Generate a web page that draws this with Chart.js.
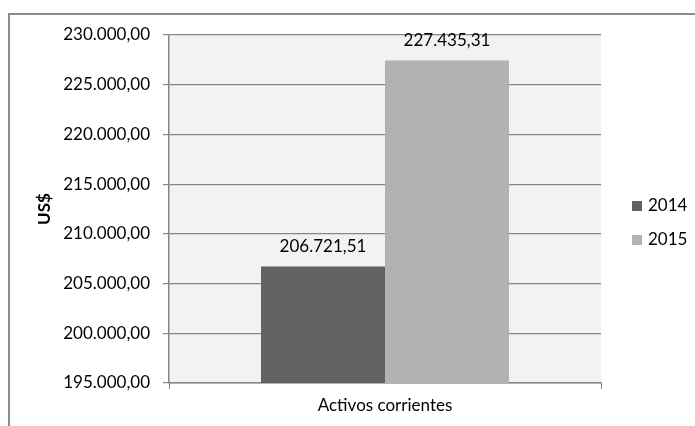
<!DOCTYPE html>
<html>
<head>
<meta charset="utf-8">
<script src="https://cdn.jsdelivr.net/npm/chart.js@4.4.1/dist/chart.umd.min.js"></script>
<style>
  html, body { margin: 0; background: #fff; overflow: hidden; }
  canvas { display: block; }
</style>
</head>
<body>
<canvas id="zeChart" width="695" height="426"></canvas>
<script>
// data
var categories = ["Activos corrientes"];
var series_2014 = [206721.51];
var series_2015 = [227435.31];
var series_labels = ["2014", "2015"];
var y_min = 195000, y_max = 230000, y_step = 5000;
var y_label = "US$";

var FONT = "Lato";
var FSIZE = 17;

function fmt(v) { // 230000 -> 230.000,00
    var parts = v.toFixed(2).split(".");
    var int = parts[0].replace(/\B(?=(\d{3})+(?!\d))/g, ".");
    return int + "," + parts[1];
}

// value labels above the bars
const valueLabels = {
    id: "valueLabels",
    afterDatasetsDraw(chart) {
        const ctx = chart.ctx;
        ctx.save();
        ctx.font = FSIZE + "px " + FONT;
        ctx.fillStyle = "#000";
        ctx.textAlign = "center";
        ctx.textBaseline = "middle";
        chart.data.datasets.forEach((ds, i) => {
            chart.getDatasetMeta(i).data.forEach((bar, j) => {
                ctx.fillText(fmt(ds.data[j]), bar.x, bar.y - 20);
            });
        });
        ctx.restore();
    }
};

// excel-like legend on the right
const sideLegend = {
    id: "sideLegend",
    afterDraw(chart) {
        const ctx = chart.ctx;
        ctx.save();
        ctx.font = FSIZE + "px " + FONT;
        ctx.textBaseline = "middle";
        chart.data.datasets.forEach((ds, i) => {
            const y = 206 + i * 34;
            ctx.fillStyle = ds.backgroundColor;
            ctx.fillRect(632, y - 5, 10, 10);
            ctx.fillStyle = "#000";
            ctx.fillText(ds.label, 648, y);
        });
        ctx.restore();
    }
};

// chart frame (cropped, only left + top show) and plot area background
const plotBg = {
    id: "plotBg",
    beforeDraw(chart) {
        const c = chart.ctx, a = chart.chartArea;
        c.save();
        c.strokeStyle = "#8c8c8c";
        c.lineWidth = 2;
        c.beginPath();
        c.moveTo(9, 426);
        c.lineTo(9, 14);
        c.lineTo(695, 14);
        c.stroke();
        c.fillStyle = "#f2f2f2";
        c.fillRect(a.left, a.top, a.right - a.left, a.bottom - a.top);
        c.restore();
    }
};

const ctx = document.getElementById("zeChart");

new Chart(ctx, {
    type: "bar",
    data: {
        labels: categories,
        datasets: [
            { label: series_labels[0], data: series_2014, backgroundColor: "#626262" },
            { label: series_labels[1], data: series_2015, backgroundColor: "#b2b2b2" },
        ],
    },
    options: {
        responsive: false,
        animation: false,
        categoryPercentage: 248 / 432,
        barPercentage: 1,
        layout: { padding: { top: 35, right: 94, left: 0, bottom: 0 } },
        plugins: {
            legend: { display: false },
            tooltip: { enabled: false },
        },
        scales: {
            x: {
                afterFit: (s) => { s.height = 43; },
                grid: { offset: true, drawOnChartArea: false, color: "#868686", tickLength: 6 },
                border: { color: "#868686", width: 1.5 },
                ticks: { color: "#000", font: { family: FONT, size: FSIZE }, padding: 6 },
            },
            y: {
                min: y_min,
                max: y_max,
                afterFit: (s) => { s.width = 169; },
                title: {
                    display: true,
                    text: y_label,
                    color: "#000",
                    font: { family: FONT, size: FSIZE, weight: "bold" },
                    padding: { top: 34, bottom: 0 },
                },
                grid: { color: "#868686", tickLength: 6, lineWidth: 1.2 },
                border: { color: "#868686", width: 1.5 },
                ticks: {
                    stepSize: y_step,
                    color: "#000",
                    font: { family: FONT, size: FSIZE },
                    padding: 13,
                    callback: (v) => fmt(v),
                },
            },
        },
    },
    plugins: [plotBg, valueLabels, sideLegend],
});
</script>
</body>
</html>
